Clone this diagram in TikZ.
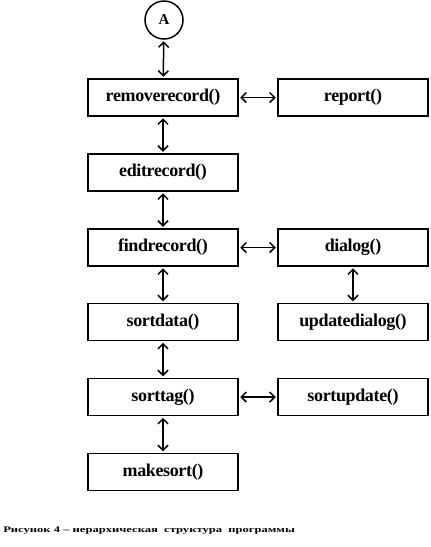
\documentclass[tikz,border=0pt]{standalone}
\usepackage{fontspec}
\setmainfont{Liberation Serif}
\usetikzlibrary{arrows.meta}
\begin{document}
\begin{tikzpicture}[x=1pt,y=-1pt,
  box/.style={draw,line width=1.5pt,minimum width=150pt,minimum height=37pt,inner sep=0pt,
    font=\bfseries\fontsize{18}{18}\selectfont\addfontfeatures{LetterSpace=-2}},
  conn/.style={line width=1.5pt,{Straight Barb[length=5pt,width=10pt]}-{Straight Barb[length=5pt,width=10pt]},shorten <=1.5pt,shorten >=1.5pt}]
\useasboundingbox (0,0) rectangle (431,547);
\node[draw,circle,line width=1.5pt,minimum size=38pt,inner sep=0pt,font=\bfseries\fontsize{15}{15}\selectfont] (A) at (164,20) {A};
\node[box] (rr) at (163,97.5) {removerecord()};
\node[box] (rep) at (353,97.5) {report()};
\node[box] (er) at (163,172.5) {editrecord()};
\node[box] (fr) at (163,247.5) {findrecord()};
\node[box] (dl) at (353,247.5) {dialog()};
\node[box] (sd) at (163,322) {sortdata()};
\node[box] (ud) at (353,322) {updatedialog()};
\node[box] (st) at (163,397) {sorttag()};
\node[box] (su) at (353,397) {sortupdate()};
\node[box] (ms) at (163,472) {makesort()};
\draw[conn] (A) -- (rr);
\draw[conn] (rr) -- (rep);
\draw[conn] (rr) -- (er);
\draw[conn] (er) -- (fr);
\draw[conn] (fr) -- (dl);
\draw[conn] (dl) -- (ud);
\draw[conn] (fr) -- (sd);
\draw[conn] (sd) -- (st);
\draw[conn] (st) -- (su);
\draw[conn] (st) -- (ms);
\node[anchor=west,inner sep=0pt,font=\bfseries\fontsize{8.5}{8.5}\selectfont,xscale=1.48] (cap) at (3,531) {Рисунок\ 4 – иерархическая\ \ структура\ \ программы};
\end{tikzpicture}
\end{document}
